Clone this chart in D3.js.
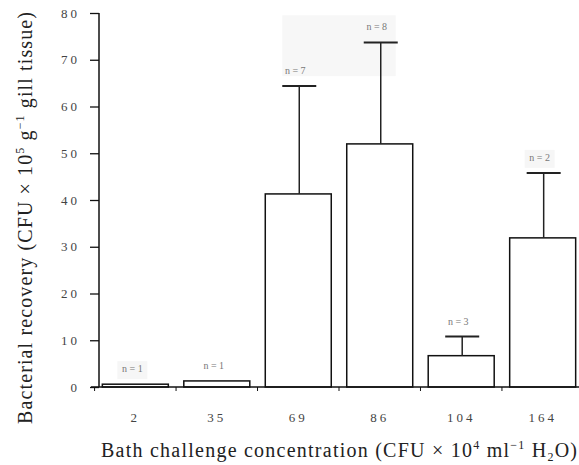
<!DOCTYPE html>
<html>
<head>
<meta charset="utf-8">
<script src="https://cdn.jsdelivr.net/npm/d3@7"></script>
<style>
  body { margin: 0; background: #fff; }
</style>
</head>
<body>
<svg id="svg" width="579" height="465"></svg>
<script>
// data
var categories = ["2", "35", "69", "86", "104", "164"];
var means = [0.6, 1.3, 41.3, 52.0, 6.7, 31.9];
var upper = [null, null, 64.4, 73.7, 10.8, 45.8];
var nLabels = ["n = 1", "n = 1", "n = 7", "n = 8", "n = 3", "n = 2"];
var shaded = [true, false, false, false, false, true];
var yTicks = [0, 10, 20, 30, 40, 50, 60, 70, 80];

var serif = "'Liberation Serif', 'Times New Roman', serif";
var width = 579, height = 465;
var svg = d3.select("#svg");

var x = d3.scaleBand()
  .domain(categories)
  .range([95, 583])
  .paddingInner(0.19)
  .paddingOuter(0.09);

var y = d3.scaleLinear()
  .domain([0, 80])
  .range([387, 13]);

// faint scan shading (one big patch over the 69/86 labels, small ones elsewhere)
svg.append("rect")
  .attr("x", x("69") + x.bandwidth() / 2 - 16)
  .attr("y", y(79.5))
  .attr("width", (x("86") + x.bandwidth() / 2 + 16) - (x("69") + x.bandwidth() / 2 - 16))
  .attr("height", y(66.5) - y(79.5))
  .attr("fill", "#f7f7f7");
categories.forEach(function(c, i) {
  if (!shaded[i]) return;
  var top = upper[i] != null ? upper[i] : means[i];
  var cx = x(c) + x.bandwidth() / 2 - 3;
  var by = y(top) - 12;
  svg.append("rect")
    .attr("x", cx - 15)
    .attr("y", by - 11)
    .attr("width", 30)
    .attr("height", 18)
    .attr("fill", "#f6f6f6");
});

// bars
svg.append("g")
  .selectAll("rect")
  .data(means)
  .join("rect")
  .attr("x", (d, i) => x(categories[i]))
  .attr("y", d => y(d))
  .attr("width", x.bandwidth())
  .attr("height", d => y(0) - y(d))
  .attr("fill", "#fff")
  .attr("stroke", "#111")
  .attr("stroke-width", 1.5);

// error bars (upper only)
var eb = svg.append("g").attr("stroke", "#222").attr("stroke-width", 1.5);
categories.forEach(function(c, i) {
  if (upper[i] == null) return;
  var cx = x(c) + x.bandwidth() / 2 + 1;
  eb.append("line")
    .attr("x1", cx).attr("x2", cx)
    .attr("y1", y(means[i])).attr("y2", y(upper[i]));
  eb.append("line")
    .attr("x1", cx - 17).attr("x2", cx + 17)
    .attr("y1", y(upper[i])).attr("y2", y(upper[i]))
    .attr("stroke-width", 2);
});

// n labels
categories.forEach(function(c, i) {
  var top = upper[i] != null ? upper[i] : means[i];
  svg.append("text")
    .attr("x", x(c) + x.bandwidth() / 2 - 3)
    .attr("y", y(top) - 12)
    .attr("text-anchor", "middle")
    .attr("font-size", 10)
    .attr("fill", "#777")
    .attr("font-family", serif)
    .text(nLabels[i]);
});

// y axis
var yAxis = d3.axisLeft(y).tickValues(yTicks).tickSize(9).tickPadding(10);
var gy = svg.append("g").attr("transform", "translate(99,0)").call(yAxis)
  .attr("font-family", serif);
gy.select(".domain").attr("stroke", "#111").attr("stroke-width", 1.5).attr("d", "M0," + y(80) + "V" + y(0));
gy.selectAll(".tick line").attr("stroke", "#111").attr("stroke-width", 1.3);
gy.selectAll(".tick text")
  .attr("font-size", 13)
  .attr("fill", "#444")
  .attr("letter-spacing", "3px");

// x axis
var xAxis = d3.axisBottom(x).tickSize(0).tickPadding(26);
var gx = svg.append("g").attr("transform", "translate(0," + y(0) + ")").call(xAxis)
  .attr("font-family", serif);
gx.select(".domain").attr("stroke", "#111").attr("stroke-width", 1.5).attr("d", "M91,0H580");
gx.selectAll(".tick text")
  .attr("font-size", 13)
  .attr("fill", "#444")
  .attr("letter-spacing", "3px");
// small ticks at band boundaries
categories.forEach(function(c) {
  var bx = x(c) - x.step() * x.paddingInner() / 2;
  gx.append("line")
    .attr("x1", bx).attr("x2", bx)
    .attr("y1", 0).attr("y2", 4)
    .attr("stroke", "#111");
});

// axis titles
var yt = svg.append("text")
  .attr("transform", "translate(32,218) rotate(-90)")
  .attr("text-anchor", "middle")
  .attr("font-size", 20)
  .attr("font-family", serif)
  .attr("textLength", 412)
  .attr("lengthAdjust", "spacing")
  .attr("fill", "#222");
yt.append("tspan").text("Bacterial recovery (CFU \u00d7 10");
yt.append("tspan").attr("dy", -8).attr("font-size", 12).text("5");
yt.append("tspan").attr("dy", 8).text(" g");
yt.append("tspan").attr("dy", -8).attr("font-size", 12).text("\u22121");
yt.append("tspan").attr("dy", 8).text(" gill tissue)");

var xt = svg.append("text")
  .attr("x", 339)
  .attr("y", 457)
  .attr("text-anchor", "middle")
  .attr("font-size", 20)
  .attr("font-family", serif)
  .attr("textLength", 476)
  .attr("lengthAdjust", "spacing")
  .attr("fill", "#222");
xt.append("tspan").text("Bath challenge concentration (CFU \u00d7 10");
xt.append("tspan").attr("dy", -8).attr("font-size", 12).text("4");
xt.append("tspan").attr("dy", 8).text(" ml");
xt.append("tspan").attr("dy", -8).attr("font-size", 12).text("\u22121");
xt.append("tspan").attr("dy", 8).text(" H");
xt.append("tspan").attr("dy", 4).attr("font-size", 12).text("2");
xt.append("tspan").attr("dy", -4).text("O)");
</script>
</body>
</html>
